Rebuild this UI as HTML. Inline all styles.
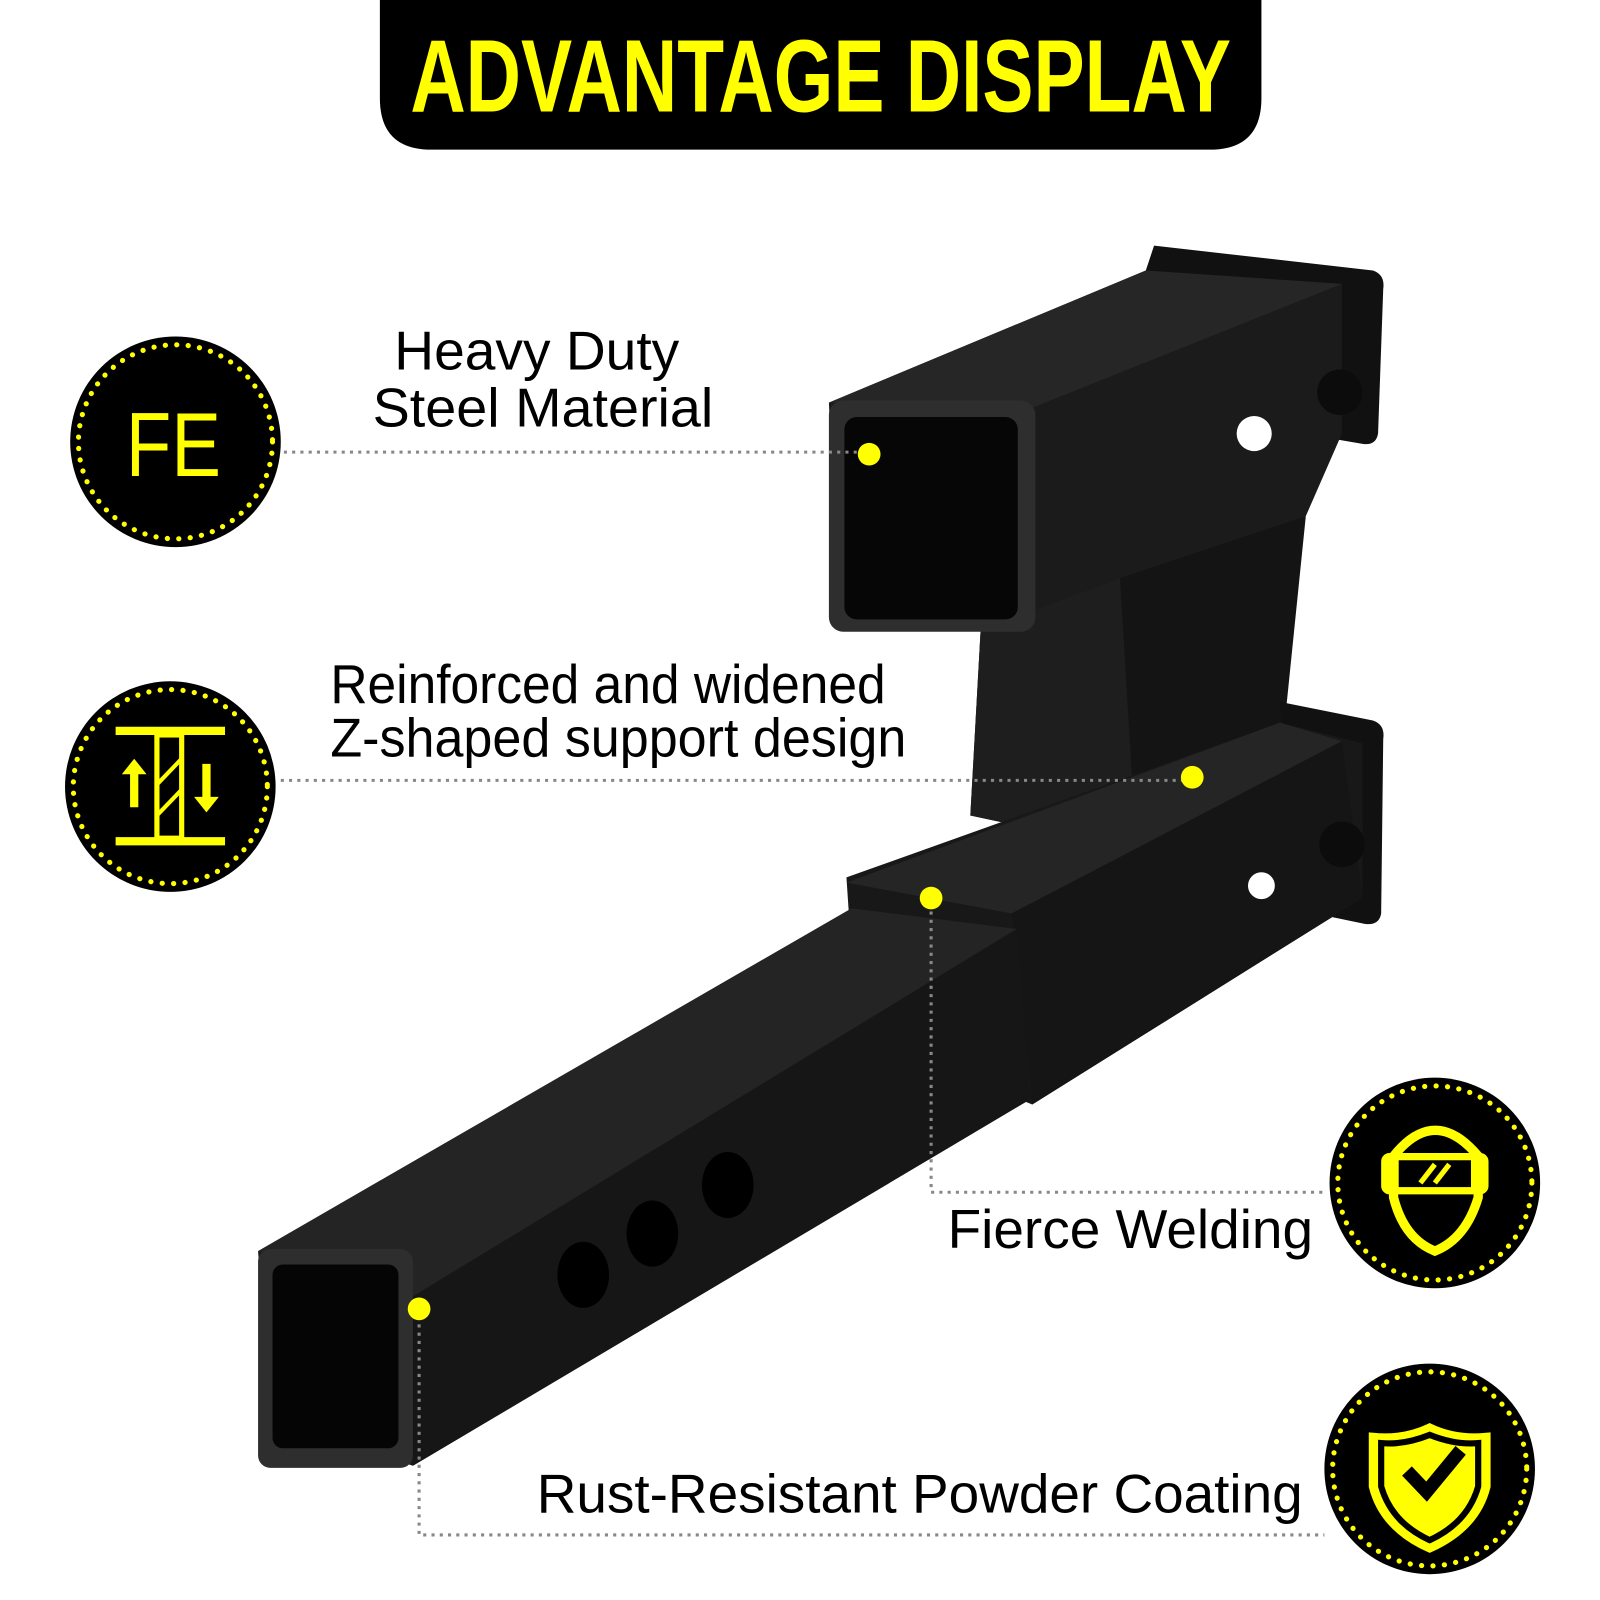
<!DOCTYPE html>
<html><head><meta charset="utf-8"><style>
html,body{margin:0;padding:0;background:#fff;}
svg{display:block}
text{font-family:"Liberation Sans",sans-serif;}
</style></head><body>
<svg width="1600" height="1600" viewBox="0 0 1550 1550" xmlns="http://www.w3.org/2000/svg">
<rect width="1550" height="1550" fill="#fff"/>
<!-- title -->
<path d="M368 0 H1222 V95 Q1222 145 1172 145 H418 Q368 145 368 95 Z" fill="#000"/>
<text x="795" y="108" text-anchor="middle" font-size="100" font-weight="bold" fill="#ffff00" textLength="795" lengthAdjust="spacingAndGlyphs">ADVANTAGE DISPLAY</text>

<!-- product -->
<g>
 <!-- upper back plate -->
 <path d="M1118 238 L1330 262 Q1342 266 1340 280 L1335 420 Q1333 432 1320 430 L1250 418 L1250 300 L1110 262 Z" fill="#111"/>
 <!-- upper tube body -->
 <path d="M803 390 L1110 262 L1300 275 L1300 420 L1265 500 L1002 612 L812 600 Z" fill="#1b1b1b"/>
 <path d="M803 390 L1110 262 L1300 275 L1000 395 Z" fill="#262626"/>
 <circle cx="1215" cy="420" r="17" fill="#fff"/>
 <!-- vertical support -->
 <path d="M950 610 L1085 560 L1265 500 L1240 745 L1080 820 L940 790 Z" fill="#141414"/>
 <path d="M1085 560 L1100 810 L1080 820 L940 790 L950 610 Z" fill="#1e1e1e"/>
 <!-- lower back plate -->
 <path d="M1240 680 L1330 698 Q1342 702 1340 716 L1338 885 Q1336 897 1322 895 L1250 880 Z" fill="#111"/>
 <!-- lower receiver -->
 <path d="M820 850 L1240 700 L1320 720 L1320 870 L1000 1070 L830 1000 Z" fill="#181818"/>
 <path d="M820 855 L1240 700 L1300 718 L980 885 Z" fill="#252525"/>
 <path d="M980 885 L1300 718 L1320 870 L1000 1070 Z" fill="#151515"/>
 <circle cx="1222" cy="858" r="13" fill="#fff"/>
 <!-- long bar -->
 <path d="M250 1212 L825 880 L985 900 L998 1065 L400 1420 L262 1375 Z" fill="#1a1a1a"/>
 <path d="M250 1212 L825 880 L985 900 L390 1262 Z" fill="#242424"/>
 <path d="M390 1262 L985 900 L998 1065 L400 1420 Z" fill="#161616"/>
 <ellipse cx="565" cy="1235" rx="25" ry="32" fill="#000"/>
 <ellipse cx="632" cy="1195" rx="25" ry="32" fill="#000"/>
 <ellipse cx="705" cy="1148" rx="25" ry="32" fill="#000"/>
 <!-- front faces -->
 <rect x="250" y="1210" width="150" height="212" rx="12" fill="#2e2e2e"/>
 <rect x="264" y="1225" width="122" height="178" rx="10" fill="#050505"/>
 <rect x="803" y="388" width="200" height="224" rx="14" fill="#2e2e2e"/>
 <rect x="818" y="404" width="168" height="196" rx="12" fill="#060606"/>
 <!-- nuts -->
 <circle cx="1298" cy="380" r="22" fill="#0c0c0c"/>
 <circle cx="1300" cy="818" r="22" fill="#0c0c0c"/>
</g>

<!-- connectors -->
<g stroke="#888" stroke-width="3" stroke-dasharray="3 5" fill="none">
 <line x1="275" y1="438" x2="835" y2="438"/>
 <line x1="272" y1="756" x2="1150" y2="756"/>
 <polyline points="902,875 902,1155 1283,1155"/>
 <polyline points="406,1275 406,1487 1283,1487"/>
</g>
<g fill="#ffff00">
 <circle cx="842" cy="440" r="11"/>
 <circle cx="1155" cy="753" r="11"/>
 <circle cx="902" cy="870" r="11"/>
 <circle cx="406" cy="1268" r="11"/>
</g>

<!-- labels -->
<g font-size="53" fill="#000">
 <text x="520" y="358" text-anchor="middle" textLength="276" lengthAdjust="spacingAndGlyphs">Heavy Duty</text>
 <text x="526" y="413" text-anchor="middle" textLength="330" lengthAdjust="spacingAndGlyphs">Steel Material</text>
 <text x="320" y="681" textLength="538" lengthAdjust="spacingAndGlyphs">Reinforced and widened</text>
 <text x="320" y="733" textLength="558" lengthAdjust="spacingAndGlyphs">Z-shaped support design</text>
 <text x="918" y="1209" textLength="354" lengthAdjust="spacingAndGlyphs">Fierce Welding</text>
 <text x="520" y="1465" textLength="742" lengthAdjust="spacingAndGlyphs">Rust-Resistant Powder Coating</text>
</g>

<!-- icon circles -->
<g>
 <circle cx="170" cy="428" r="102" fill="#000"/>
 <circle cx="170" cy="428" r="94" fill="none" stroke="#ffff00" stroke-width="5" stroke-dasharray="0.1 11" stroke-linecap="round"/>
 <text x="168" y="461" text-anchor="middle" font-size="88" fill="#ffff00" textLength="92" lengthAdjust="spacingAndGlyphs">FE</text>

 <circle cx="165" cy="762" r="102" fill="#000"/>
 <circle cx="165" cy="762" r="94" fill="none" stroke="#ffff00" stroke-width="5" stroke-dasharray="0.1 11" stroke-linecap="round"/>
 <g stroke="#ffff00" stroke-width="8" fill="none">
  <line x1="112" y1="708" x2="218" y2="708"/>
  <line x1="112" y1="815" x2="218" y2="815"/>
  <rect x="152" y="712" width="24" height="100" stroke-width="5"/>
  <line x1="152" y1="760" x2="176" y2="735" stroke-width="4"/>
  <line x1="152" y1="790" x2="176" y2="765" stroke-width="4"/>
  <line x1="130" y1="782" x2="130" y2="745"/>
  <line x1="200" y1="740" x2="200" y2="778"/>
 </g>
 <path d="M118 750 L130 735 L142 750 Z M188 772 L200 787 L212 772 Z" fill="#ffff00"/>

 <circle cx="1390" cy="1146" r="102" fill="#000"/>
 <circle cx="1390" cy="1146" r="94" fill="none" stroke="#ffff00" stroke-width="5" stroke-dasharray="0.1 11" stroke-linecap="round"/>
 <path d="M1350 1120 Q1390 1070 1432 1120 L1432 1160 Q1420 1200 1390 1212 Q1360 1200 1350 1160 Z" fill="none" stroke="#ffff00" stroke-width="9"/>
 <rect x="1338" y="1117" width="104" height="40" rx="8" fill="#ffff00"/>
 <rect x="1355" y="1124" width="70" height="26" fill="#000"/>
 <path d="M1376 1146 L1390 1128 M1390 1146 L1404 1128" stroke="#ffff00" stroke-width="5"/>

 <circle cx="1385" cy="1423" r="102" fill="#000"/>
 <circle cx="1385" cy="1423" r="94" fill="none" stroke="#ffff00" stroke-width="5" stroke-dasharray="0.1 11" stroke-linecap="round"/>
 <path d="M1385 1383 Q1410 1395 1440 1392 L1440 1440 Q1430 1480 1385 1500 Q1340 1480 1330 1440 L1330 1392 Q1360 1395 1385 1383 Z" fill="#ffff00" stroke="#ffff00" stroke-width="8"/>
 <path d="M1385 1390 Q1410 1400 1432 1398 L1432 1440 Q1422 1475 1385 1492 Q1348 1475 1338 1440 L1338 1398 Q1360 1400 1385 1390 Z" fill="none" stroke="#000" stroke-width="6"/>
 <path d="M1363 1425 L1382 1445 L1415 1405" fill="none" stroke="#000" stroke-width="13"/>
</g>
</svg>
</body></html>
